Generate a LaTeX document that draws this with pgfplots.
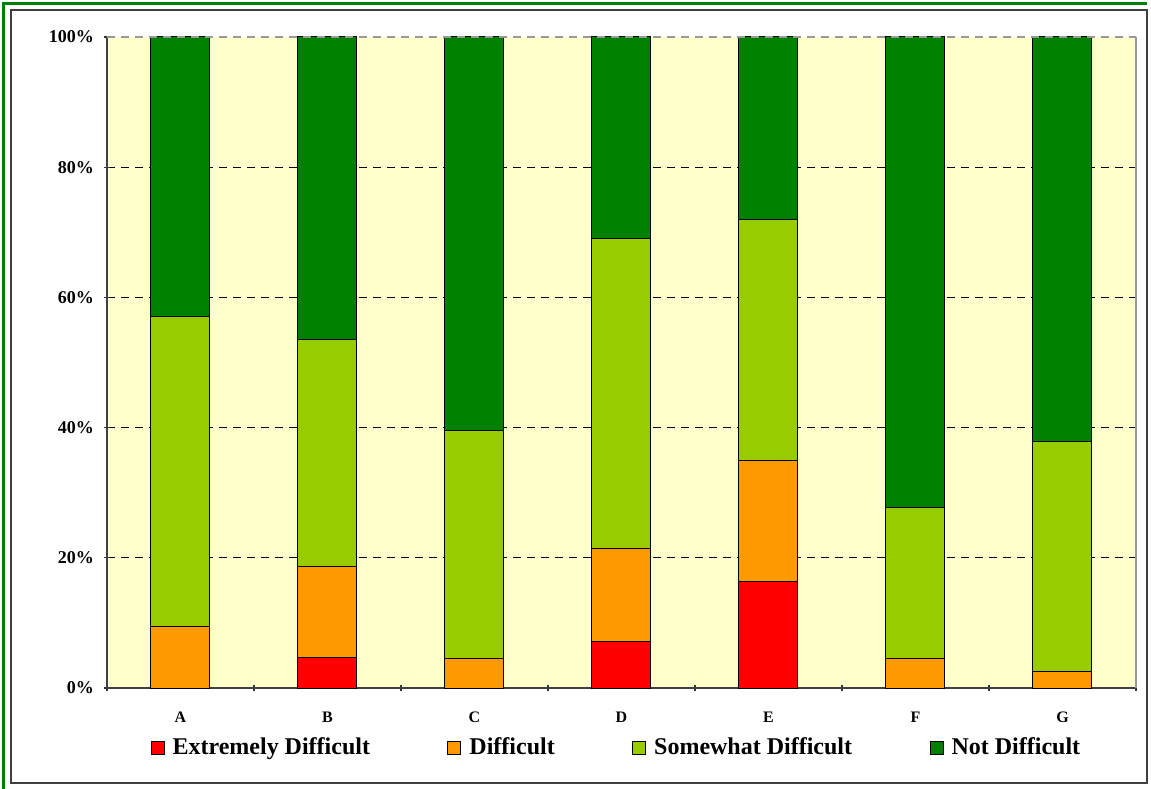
\documentclass[border=0pt]{standalone}
\usepackage{pgfplots}
\pgfplotsset{compat=1.18}
\usepackage{fontspec}
\setmainfont{Liberation Serif}
\definecolor{cED}{HTML}{FF0000}
\definecolor{cD}{HTML}{FF9900}
\definecolor{cSD}{HTML}{99CC00}
\definecolor{cND}{HTML}{008000}
\definecolor{bgY}{HTML}{FFFFCC}
\definecolor{frameG}{HTML}{008000}
\pgfplotsset{sq legend/.style={legend image code/.code={\draw[##1,draw=black,line width=0.5pt] (0pt,-3.25pt) rectangle (6.5pt,3.25pt);}}}
\begin{document}
\begin{tikzpicture}
\useasboundingbox (-53.5pt,-50pt) rectangle (522pt,344pt);
\draw[frameG,line width=1.5pt] (520pt,342.25pt) -- (-51.75pt,342.25pt) -- (-51.75pt,-60pt);
\draw[black!75,line width=1pt] (-48pt,-47.5pt) rectangle (520pt,339pt);
\begin{axis}[
  at={(0,0)}, anchor=south west,
  width=514.5pt, height=325.5pt, scale only axis,
  ybar stacked, bar width=29.5pt,
  xmin=-0.5, xmax=6.5, ymin=0, ymax=100,
  xtick={0,...,6}, xticklabels={A,B,C,D,E,F,G},
  major x tick style={draw=none},
  minor xtick={-0.5,0.5,...,6.5},
  minor tick length=3pt,
  ytick={0,20,...,100},
  yticklabel={\pgfmathprintnumber{\tick}\%},
  /pgf/number format/assume math mode=true,
  tick align=outside, tick pos=left,
  major tick length=3pt,
  axis x line=bottom, axis y line=left,
  axis line style={-, black!75, line width=0.8pt},
  every tick/.style={black!80, line width=0.6pt},
  ymajorgrids, grid style={black, dashed, dash pattern=on 4pt off 3pt, line width=0.5pt},
  axis background/.style={fill=bgY},
  xticklabel style={font=\bfseries\fontsize{8}{9}\selectfont, yshift=-7pt},
  yticklabel style={font=\bfseries\fontsize{9}{10}\selectfont, xshift=-1.5pt},
  legend columns=4,
  legend style={at={(axis description cs:0.496,-0.092)}, anchor=center, draw=none, fill=none,
    font=\bfseries\fontsize{12}{14}\selectfont,
    /tikz/every odd column/.append style={column sep=2pt},
    /tikz/every even column/.append style={column sep=36.7pt},
    inner sep=0pt},
  legend cell align=left,
  after end axis/.code={
    \draw[gray!80, line width=0.6pt] (rel axis cs:1,0) -- (rel axis cs:1,1);
    \draw[gray!80, dashed, dash pattern=on 4pt off 3pt, line width=0.8pt] (rel axis cs:0,1) -- (rel axis cs:1,1);
  },
]
\addplot[fill=cED, draw=black, line width=0.5pt, sq legend] coordinates {(0,0) (1,4.7) (2,0) (3,7.2) (4,16.3) (5,0) (6,0)};
\addlegendentry{Extremely Difficult}
\addplot[fill=cD, draw=black, line width=0.5pt, sq legend] coordinates {(0,9.5) (1,13.9) (2,4.6) (3,14.3) (4,18.6) (5,4.6) (6,2.5)};
\addlegendentry{Difficult}
\addplot[fill=cSD, draw=black, line width=0.5pt, sq legend] coordinates {(0,47.6) (1,34.9) (2,34.9) (3,47.5) (4,37.1) (5,23.2) (6,35.4)};
\addlegendentry{Somewhat Difficult}
\addplot[fill=cND, draw=black, line width=0.5pt, sq legend] coordinates {(0,42.9) (1,46.5) (2,60.5) (3,31.0) (4,28.0) (5,72.2) (6,62.1)};
\addlegendentry{Not Difficult}
\end{axis}
\end{tikzpicture}
\end{document}
